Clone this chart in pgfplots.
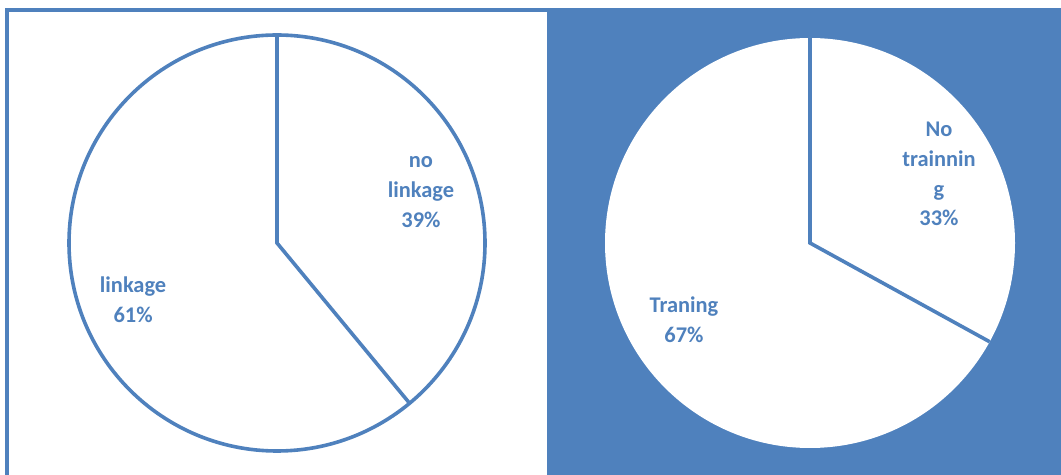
\documentclass[border=0pt]{standalone}
\usepackage{pgfplots}
\pgfplotsset{compat=1.18}
\usepackage{pgfplotstable}
\usepackage{fontspec}
\setmainfont{Carlito}
\definecolor{pieblue}{RGB}{79,129,189}

% shares in percent, first row = slice drawn clockwise from 12 o'clock
\pgfplotstableread{
label share
nolinkage 39
linkage 61
}\linkagetab
\pgfplotstableread{
label share
notraining 33
training 67
}\trainingtab

\pgfplotsset{
  pie/.style={scale only axis, xmin=-1.2, xmax=1.2, ymin=-1.2, ymax=1.2,
    hide axis, clip=false, anchor=center},
}
\tikzset{lbl/.style={text=pieblue, font=\bfseries\fontsize{22.5}{30}\selectfont, align=center}}

\begin{document}
\begin{tikzpicture}
\useasboundingbox (0bp,0bp) rectangle (1061bp,475bp);
\draw[pieblue, line width=3.2bp] (7bp,-10bp) -- (7bp,465bp) -- (560bp,465bp);
\fill[pieblue] (547bp,0bp) rectangle (1061bp,466.6bp);

\pgfplotstablegetelem{0}{share}\of\linkagetab
\let\pA\pgfplotsretval
\pgfplotstablegetelem{1}{share}\of\linkagetab
\let\pB\pgfplotsretval
\pgfmathsetmacro\endA{90-3.6*\pA}
\begin{axis}[pie, at={(277bp,232bp)}, width=499.2bp, height=499.2bp]
\draw[pieblue, line width=3.6bp, fill=white] (axis cs:0,0) circle[radius=1];
\draw[pieblue, line width=3.6bp] (axis cs:0,1) -- (axis cs:0,0) -- (axis cs:{cos(\endA)},{sin(\endA)});
\node[lbl] at (axis cs:0.692,0.245) {no\\linkage\\\pA\%};
\node[lbl] at (axis cs:-0.692,-0.274) {linkage\\\pB\%};
\end{axis}

\pgfplotstablegetelem{0}{share}\of\trainingtab
\let\pC\pgfplotsretval
\pgfplotstablegetelem{1}{share}\of\trainingtab
\let\pD\pgfplotsretval
\pgfmathsetmacro\endB{90-3.6*\pC}
\begin{axis}[pie, at={(810bp,232bp)}, width=492bp, height=492bp]
\fill[white] (axis cs:0,0) circle[radius=1];
\draw[pieblue, line width=3.6bp] (axis cs:0,1) -- (axis cs:0,0) -- (axis cs:{cos(\endB)},{sin(\endB)});
\node[lbl] at (axis cs:0.629,0.337) {No\\trainnin\\g\\\pC\%};
\node[lbl] at (axis cs:-0.615,-0.376) {Traning\\\pD\%};
\end{axis}
\end{tikzpicture}
\end{document}
